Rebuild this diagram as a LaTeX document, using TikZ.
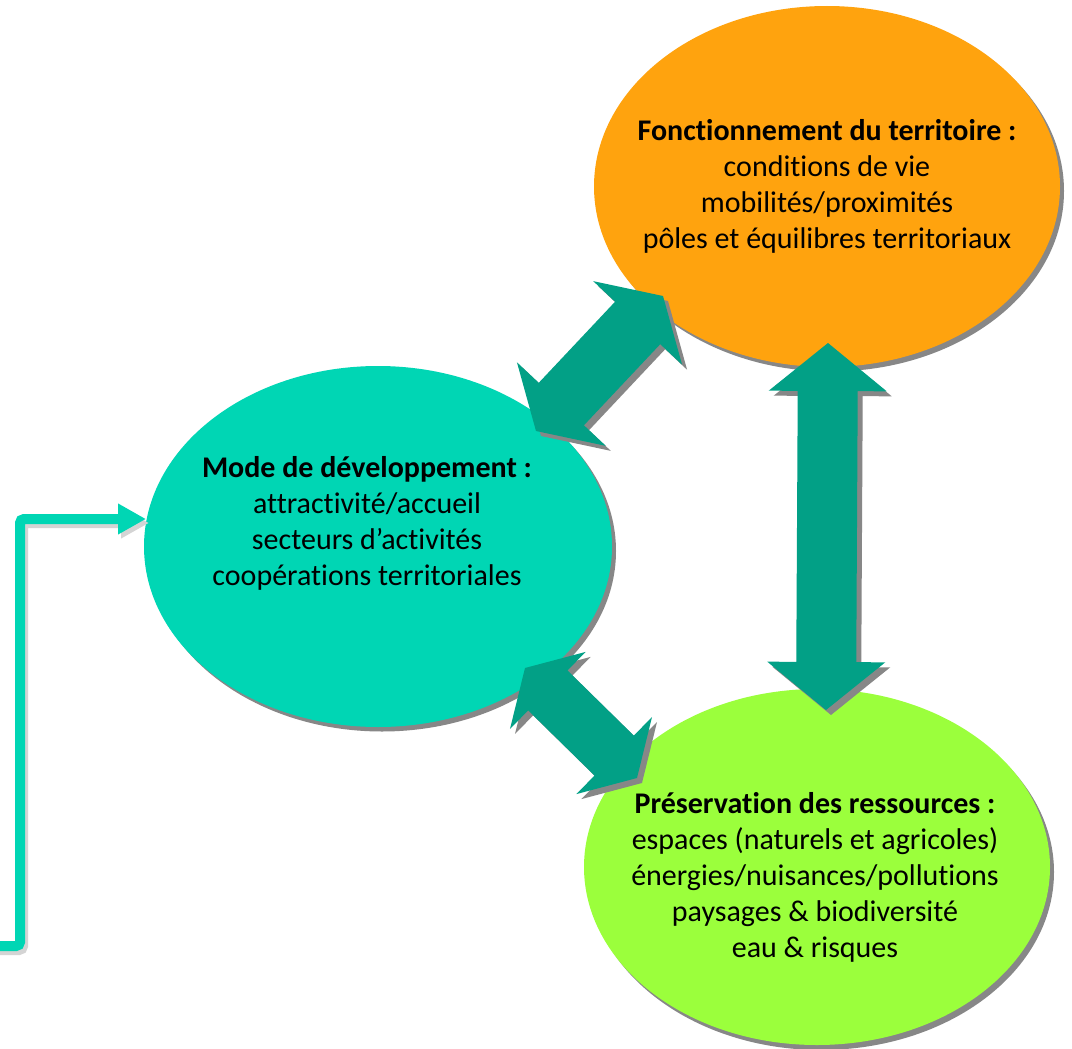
\documentclass[tikz,border=0pt]{standalone}
\usepackage{fontspec}
\setmainfont[Ligatures={NoCommon,NoContextual},Contextuals={NoAlternate},RawFeature={-liga;-clig;-calt}]{Carlito}
\usetikzlibrary{calc,shapes.geometric,arrows.meta}
\definecolor{orangeC}{RGB}{255,163,14}
\definecolor{tealC}{RGB}{0,214,180}
\definecolor{greenC}{RGB}{155,255,60}
\definecolor{arrowC}{RGB}{2,160,134}
\definecolor{shadowC}{RGB}{135,135,135}
\definecolor{lightshadowC}{RGB}{212,212,212}
% A B headlen headhalf shafthalf
\newcommand\dblarrowpath[5]{%
 (#1) -- ($(#1)!#3!(#2)!#4!90:(#2)$) -- ($(#1)!#3!(#2)!#5!90:(#2)$)
 -- ($(#2)!#3!(#1)!#5!-90:(#1)$) -- ($(#2)!#3!(#1)!#4!-90:(#1)$) -- (#2)
 -- ($(#2)!#3!(#1)!#4!90:(#1)$) -- ($(#2)!#3!(#1)!#5!90:(#1)$)
 -- ($(#1)!#3!(#2)!#5!-90:(#2)$) -- ($(#1)!#3!(#2)!#4!-90:(#2)$) -- cycle}
\tikzset{
  bubble/.style={ellipse, inner sep=0pt, draw=none},
  bubbleshadow/.style={ellipse, inner sep=0pt, draw=none, fill=shadowC},
  txt/.style={align=center, font=\fontsize{30}{36}\selectfont, inner sep=0pt},
  conn/.style={line width=10pt, rounded corners=4pt, -{Triangle[length=28pt,width=29pt]}},
  shadowshift/.style={transform canvas={shift={(5pt,-5pt)}}},
}
\begin{document}
\begin{tikzpicture}[x=1pt,y=-1pt]
\useasboundingbox (0,0) rectangle (1072,1049);
\fill[white] (0,0) rectangle (1072,1049);

% ellipse shadows
\node[bubbleshadow, minimum width=466pt, minimum height=361pt] (oshadow) at (831,191) {};
\node[bubbleshadow, minimum width=468pt, minimum height=361pt] (tshadow) at (382,551) {};
\node[bubbleshadow, minimum width=466pt, minimum height=356pt] (gshadow) at (821,872) {};
% ellipses
\node[bubble, fill=orangeC, minimum width=466pt, minimum height=361pt] (orange) at (827,186.5) {};
\node[bubble, fill=tealC, minimum width=468pt, minimum height=361pt] (teal) at (378,546.5) {};
\node[bubble, fill=greenC, minimum width=466pt, minimum height=356pt] (green) at (817,867) {};

% texts
\node[txt] (otext) at (827,186) {\textbf{Fonctionnement du territoire :}\\conditions de vie\\mobilités/proximités\\pôles et équilibres territoriaux};
\node[txt] (ttext) at (367,523) {\textbf{Mode de développement :}\\attractivité/accueil\\secteurs d’activités\\coopérations territoriales};
\node[txt] (gtext) at (815,877) {\textbf{Préservation des ressources :}\\espaces (naturels et agricoles)\\énergies/nuisances/pollutions\\paysages \& biodiversité\\eau \& risques};

% block arrow tips
\coordinate (a1) at (536,431);
\coordinate (b1) at (663,296);
\coordinate (a2) at (525,668);
\coordinate (b2) at (637,778);
\coordinate (a3) at (828,343);
\coordinate (b3) at (826,710);

% arrow shadows
\fill[shadowC, shadowshift] \dblarrowpath{a1}{b1}{37pt}{61pt}{31pt};
\fill[shadowC, shadowshift] \dblarrowpath{a2}{b2}{32pt}{54pt}{28pt};
\fill[shadowC, shadowshift] \dblarrowpath{a3}{b3}{48pt}{59pt}{30pt};
% arrows
\fill[arrowC] \dblarrowpath{a1}{b1}{37pt}{61pt}{31pt};
\fill[arrowC] \dblarrowpath{a2}{b2}{32pt}{54pt}{28pt};
\fill[arrowC] \dblarrowpath{a3}{b3}{48pt}{59pt}{30pt};

% left connector
\coordinate (cstart) at (-8,946);
\coordinate (cbend) at (20,519);
\coordinate (ctip) at (146,519);
\draw[conn, draw=lightshadowC, transform canvas={shift={(3pt,-4pt)}}] (cstart) -| (cbend) -- (ctip);
\draw[conn, draw=tealC] (cstart) -| (cbend) -- (ctip);
\end{tikzpicture}
\end{document}
